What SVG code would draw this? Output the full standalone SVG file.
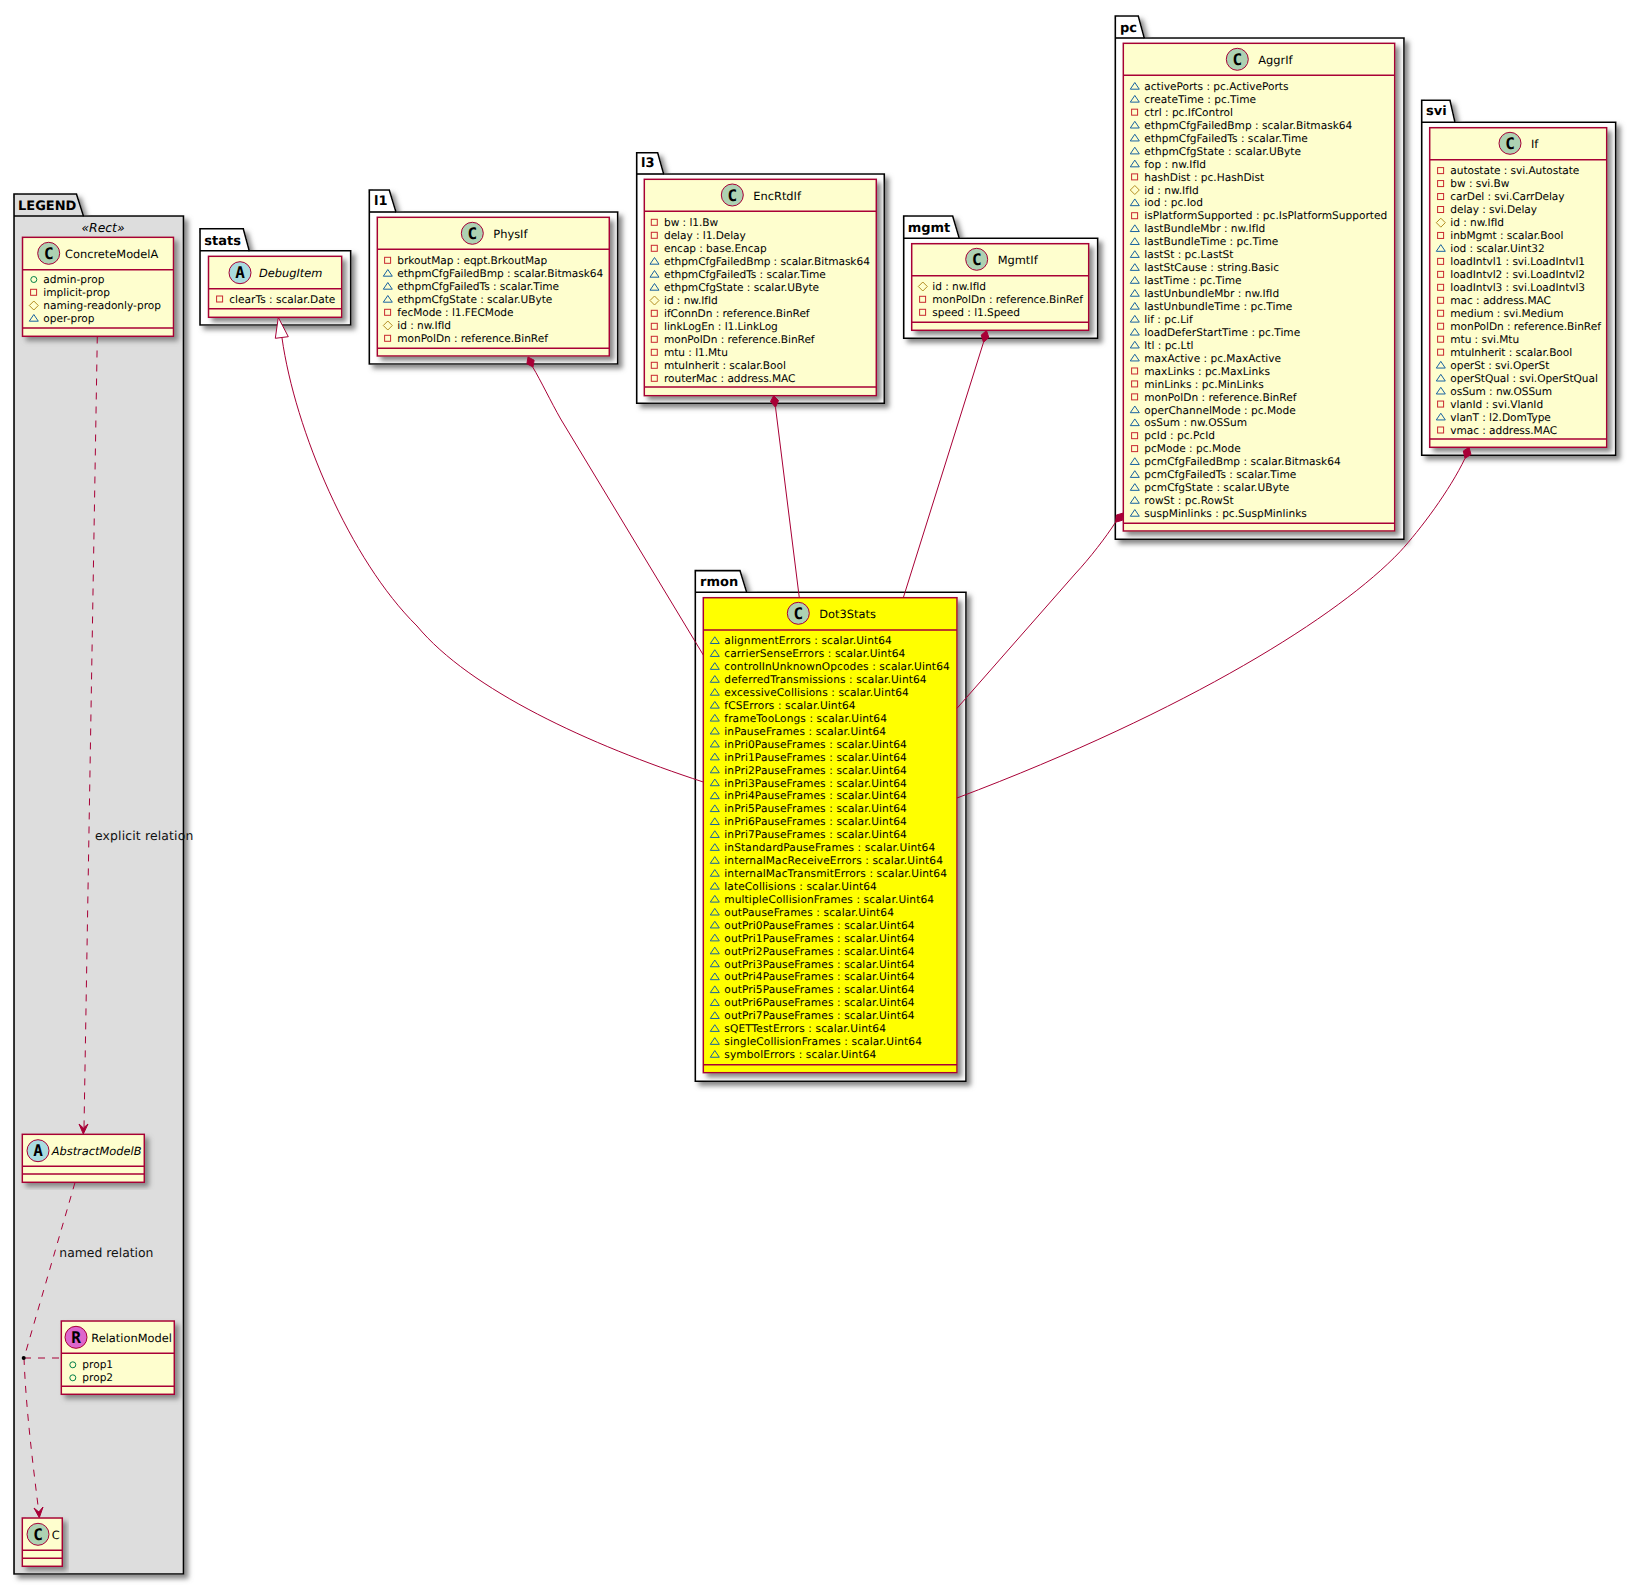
<svg xmlns="http://www.w3.org/2000/svg" width="1636" height="1585" viewBox="0 0 1636 1585">
<style>
text{font-family:"DejaVu Sans",sans-serif;font-size:10.6px;fill:#000;text-rendering:geometricPrecision}
.pk{fill:#fff;stroke:#000;stroke-width:1.6;filter:url(#sh)}
.pt{font-size:13px;font-weight:bold}
.box{fill:#FEFECE;stroke:#A80036;stroke-width:1.5;filter:url(#sh)}
.sep{stroke:#A80036;stroke-width:1.5}
.ci{stroke:#A80036;stroke-width:1}
.cc{fill:#ADD1B2}.ca{fill:#A9DCDF}.cr{fill:#DD66CC}
.lt{font-family:"DejaVu Sans Mono",monospace;font-weight:bold;font-size:16px;text-anchor:middle}
.n{font-size:11.4px}
.i{font-style:italic}
.l{font-size:12.4px;fill:#111}
.e{fill:none;stroke:#A80036;stroke-width:1}
.d{stroke-dasharray:7 7}
.h{fill:#A80036;stroke:#A80036;stroke-width:1}
.tight text{letter-spacing:-.06px}
.wide text{letter-spacing:.11px}
</style>
<defs>
<filter id="sh" x="-10%" y="-10%" width="125%" height="125%"><feDropShadow dx="4" dy="4" stdDeviation="2.4" flood-color="#888" flood-opacity="1"/></filter>
<rect id="m" x="-12.7" y="-6.7" width="6" height="6" fill="none" stroke="#C82930"/>
<polygon id="p" points="-14,-0.8 -9.5,-7.5 -5,-0.8" fill="none" stroke="#1963A0"/>
<polygon id="h" points="-14,-3.5 -9.5,-8 -5,-3.5 -9.5,1" fill="none" stroke="#B38D22"/>
<circle id="u" cx="-9.5" cy="-3.5" r="3" fill="none" stroke="#038048"/>
</defs>

<g id="pkg-LEGEND">
<path style="fill:#DDD" class="pk" d="M14,216V194H76.5L83.5,216H183.5V1574H14Z"/>
<path d="M14,216H83.5" fill="none" stroke="#000" stroke-width="1.6"/>
<text class="pt" x="18" y="210">LEGEND</text>
<text class="i" style="font-size:12.4px" x="103" y="232" text-anchor="middle">«Rect»</text>
<g id="ConcreteModelA">
<rect class="box" x="22.5" y="237.3" width="151" height="99"/>
<path class="sep" d="M22.5,269.7H173.5M22.5,328H173.5"/>
<circle class="ci cc" cx="48.7" cy="253.3" r="11"/><text class="lt" x="48.7" y="259">C</text>
<text class="n" x="65" y="258">ConcreteModelA</text>
<g transform="translate(43.3,283)">
<use href="#u"/><text>admin-prop</text>
<use href="#m" y="13"/><text y="13">implicit-prop</text>
<use href="#h" y="26"/><text y="26">naming-readonly-prop</text>
<use href="#p" y="39"/><text y="39">oper-prop</text>
</g></g>
<g id="AbstractModelB">
<rect class="box" x="22.3" y="1134.3" width="122" height="48"/>
<path class="sep" d="M22.3,1166.3H144.3M22.3,1174H144.3"/>
<circle class="ci ca" cx="38" cy="1150.7" r="11"/><text class="lt" x="38" y="1156.4">A</text>
<text class="n i" x="51.7" y="1154.7">AbstractModelB</text>
</g>
<g id="RelationModel">
<rect class="box" x="61.3" y="1321" width="113" height="73.3"/>
<path class="sep" d="M61.3,1353.3H174.3M61.3,1386.3H174.3"/>
<circle class="ci cr" cx="76" cy="1337.3" r="11"/><text class="lt" x="76" y="1343">R</text>
<text class="n" x="91.3" y="1342">RelationModel</text>
<g transform="translate(82.3,1368.3)">
<use href="#u"/><text>prop1</text>
<use href="#u" y="13"/><text y="13">prop2</text>
</g></g>
<g id="C">
<rect class="box" x="22.3" y="1518" width="40" height="48.3"/>
<path class="sep" d="M22.3,1550.3H62.3M22.3,1558.3H62.3"/>
<circle class="ci cc" cx="38" cy="1534.3" r="11"/><text class="lt" x="38" y="1540">C</text>
<text class="n" x="51.7" y="1538.7">C</text>
</g>
</g>

<g id="pkg-stats">
<path class="pk" d="M200,250.7V228.7H243.3L249.3,250.7H350.7V325H200Z"/>
<path d="M200,250.7H249.3" fill="none" stroke="#000" stroke-width="1.6"/>
<text class="pt" x="204.3" y="245">stats</text>
<g id="DebugItem">
<rect class="box" x="208.5" y="256.3" width="133.2" height="61"/>
<path class="sep" d="M208.5,288.7H341.7M208.5,308.7H341.7"/>
<circle class="ci ca" cx="240" cy="272.7" r="11"/><text class="lt" x="240" y="278.4">A</text>
<text class="n i" x="259" y="276.7">DebugItem</text>
<g transform="translate(229.3,302.7)"><use href="#m"/><text>clearTs : scalar.Date</text></g>
</g></g>

<g id="pkg-l1">
<path class="pk" d="M369.3,212V190H389.3L396,212H617.7V364H369.3Z"/>
<path d="M369.3,212H396" fill="none" stroke="#000" stroke-width="1.6"/>
<text class="pt" x="374" y="205.3">l1</text>
<g id="PhysIf">
<rect class="box" x="377.3" y="217.3" width="232" height="138.7"/>
<path class="sep" d="M377.3,249.3H609.3M377.3,348.3H609.3"/>
<circle class="ci cc" cx="472.3" cy="233.3" r="11"/><text class="lt" x="472.3" y="239">C</text>
<text class="n" x="493.3" y="237.7">PhysIf</text>
<g class="tight" transform="translate(397.3,264)">
<use href="#m"/><text>brkoutMap : eqpt.BrkoutMap</text>
<use href="#p" y="13"/><text y="13">ethpmCfgFailedBmp : scalar.Bitmask64</text>
<use href="#p" y="26"/><text y="26">ethpmCfgFailedTs : scalar.Time</text>
<use href="#p" y="39"/><text y="39">ethpmCfgState : scalar.UByte</text>
<use href="#m" y="52"/><text y="52">fecMode : l1.FECMode</text>
<use href="#h" y="65"/><text y="65">id : nw.IfId</text>
<use href="#m" y="78"/><text y="78">monPolDn : reference.BinRef</text>
</g></g></g>

<g id="pkg-l3">
<path class="pk" d="M636.7,174V152.7H657.7L663.7,174H884.3V403.3H636.7Z"/>
<path d="M636.7,174H663.7" fill="none" stroke="#000" stroke-width="1.6"/>
<text class="pt" x="641" y="167.3">l3</text>
<g id="EncRtdIf">
<rect class="box" x="644.3" y="179.3" width="232" height="216.4"/>
<path class="sep" d="M644.3,211.3H876.3M644.3,387H876.3"/>
<circle class="ci cc" cx="732.3" cy="195" r="11"/><text class="lt" x="732.3" y="200.7">C</text>
<text class="n" x="753.3" y="199.5">EncRtdIf</text>
<g class="tight" transform="translate(664,226)">
<use href="#m"/><text>bw : l1.Bw</text>
<use href="#m" y="13"/><text y="13">delay : l1.Delay</text>
<use href="#m" y="26"/><text y="26">encap : base.Encap</text>
<use href="#p" y="39"/><text y="39">ethpmCfgFailedBmp : scalar.Bitmask64</text>
<use href="#p" y="52"/><text y="52">ethpmCfgFailedTs : scalar.Time</text>
<use href="#p" y="65"/><text y="65">ethpmCfgState : scalar.UByte</text>
<use href="#h" y="78"/><text y="78">id : nw.IfId</text>
<use href="#m" y="91"/><text y="91">ifConnDn : reference.BinRef</text>
<use href="#m" y="104"/><text y="104">linkLogEn : l1.LinkLog</text>
<use href="#m" y="117"/><text y="117">monPolDn : reference.BinRef</text>
<use href="#m" y="130"/><text y="130">mtu : l1.Mtu</text>
<use href="#m" y="143"/><text y="143">mtuInherit : scalar.Bool</text>
<use href="#m" y="156"/><text y="156">routerMac : address.MAC</text>
</g></g></g>

<g id="pkg-mgmt">
<path class="pk" d="M903.7,238.3V216H952.7L959.3,238.3H1097.7V338.3H903.7Z"/>
<path d="M903.7,238.3H959.3" fill="none" stroke="#000" stroke-width="1.6"/>
<text class="pt" x="907.7" y="232">mgmt</text>
<g id="MgmtIf">
<rect class="box" x="911.7" y="243.7" width="177" height="86.6"/>
<path class="sep" d="M911.7,275.7H1088.7M911.7,322.3H1088.7"/>
<circle class="ci cc" cx="976.7" cy="259.3" r="11"/><text class="lt" x="976.7" y="265">C</text>
<text class="n" x="997.7" y="263.7">MgmtIf</text>
<g class="tight" transform="translate(932.3,290)">
<use href="#h"/><text>id : nw.IfId</text>
<use href="#m" y="13"/><text y="13">monPolDn : reference.BinRef</text>
<use href="#m" y="26"/><text y="26">speed : l1.Speed</text>
</g></g></g>

<g id="pkg-pc">
<path class="pk" d="M1115.3,38V16H1138.3L1144.3,38H1404V539.3H1115.3Z"/>
<path d="M1115.3,38H1144.3" fill="none" stroke="#000" stroke-width="1.6"/>
<text class="pt" x="1120" y="31.7">pc</text>
<g id="AggrIf">
<rect class="box" x="1123.3" y="43.3" width="271.4" height="487.7"/>
<path class="sep" d="M1123.3,75.3H1394.7M1123.3,523.3H1394.7"/>
<circle class="ci cc" cx="1237.3" cy="59.3" r="11"/><text class="lt" x="1237.3" y="65">C</text>
<text class="n" x="1258.3" y="64">AggrIf</text>
<g transform="translate(1144.3,90)">
<use href="#p"/><text>activePorts : pc.ActivePorts</text>
<use href="#p" y="12.94"/><text y="12.94">createTime : pc.Time</text>
<use href="#m" y="25.88"/><text y="25.88">ctrl : pc.IfControl</text>
<use href="#p" y="38.82"/><text y="38.82">ethpmCfgFailedBmp : scalar.Bitmask64</text>
<use href="#p" y="51.76"/><text y="51.76">ethpmCfgFailedTs : scalar.Time</text>
<use href="#p" y="64.7"/><text y="64.7">ethpmCfgState : scalar.UByte</text>
<use href="#p" y="77.64"/><text y="77.64">fop : nw.IfId</text>
<use href="#m" y="90.58"/><text y="90.58">hashDist : pc.HashDist</text>
<use href="#h" y="103.52"/><text y="103.52">id : nw.IfId</text>
<use href="#p" y="116.46"/><text y="116.46">iod : pc.Iod</text>
<use href="#m" y="129.4"/><text y="129.4">isPlatformSupported : pc.IsPlatformSupported</text>
<use href="#p" y="142.34"/><text y="142.34">lastBundleMbr : nw.IfId</text>
<use href="#p" y="155.28"/><text y="155.28">lastBundleTime : pc.Time</text>
<use href="#p" y="168.22"/><text y="168.22">lastSt : pc.LastSt</text>
<use href="#p" y="181.16"/><text y="181.16">lastStCause : string.Basic</text>
<use href="#p" y="194.1"/><text y="194.1">lastTime : pc.Time</text>
<use href="#p" y="207.04"/><text y="207.04">lastUnbundleMbr : nw.IfId</text>
<use href="#p" y="219.98"/><text y="219.98">lastUnbundleTime : pc.Time</text>
<use href="#p" y="232.92"/><text y="232.92">lif : pc.Lif</text>
<use href="#p" y="245.86"/><text y="245.86">loadDeferStartTime : pc.Time</text>
<use href="#p" y="258.8"/><text y="258.8">ltl : pc.Ltl</text>
<use href="#p" y="271.74"/><text y="271.74">maxActive : pc.MaxActive</text>
<use href="#m" y="284.68"/><text y="284.68">maxLinks : pc.MaxLinks</text>
<use href="#m" y="297.62"/><text y="297.62">minLinks : pc.MinLinks</text>
<use href="#m" y="310.56"/><text y="310.56">monPolDn : reference.BinRef</text>
<use href="#p" y="323.5"/><text y="323.5">operChannelMode : pc.Mode</text>
<use href="#p" y="336.44"/><text y="336.44">osSum : nw.OSSum</text>
<use href="#m" y="349.38"/><text y="349.38">pcId : pc.PcId</text>
<use href="#m" y="362.32"/><text y="362.32">pcMode : pc.Mode</text>
<use href="#p" y="375.26"/><text y="375.26">pcmCfgFailedBmp : scalar.Bitmask64</text>
<use href="#p" y="388.2"/><text y="388.2">pcmCfgFailedTs : scalar.Time</text>
<use href="#p" y="401.14"/><text y="401.14">pcmCfgState : scalar.UByte</text>
<use href="#p" y="414.08"/><text y="414.08">rowSt : pc.RowSt</text>
<use href="#p" y="427.02"/><text y="427.02">suspMinlinks : pc.SuspMinlinks</text>
</g></g></g>

<g id="pkg-svi">
<path class="pk" d="M1421.7,122.3V100.3H1450L1455,122.3H1615.7V455.3H1421.7Z"/>
<path d="M1421.7,122.3H1455" fill="none" stroke="#000" stroke-width="1.6"/>
<text class="pt" x="1426" y="115.3">svi</text>
<g id="If">
<rect class="box" x="1429.7" y="127.7" width="177" height="319.6"/>
<path class="sep" d="M1429.7,159.7H1606.7M1429.7,439H1606.7"/>
<circle class="ci cc" cx="1510" cy="143.3" r="11"/><text class="lt" x="1510" y="149">C</text>
<text class="n" x="1531" y="147.7">If</text>
<g class="tight" transform="translate(1450.3,174.3)">
<use href="#m"/><text>autostate : svi.Autostate</text>
<use href="#m" y="12.97"/><text y="12.97">bw : svi.Bw</text>
<use href="#m" y="25.94"/><text y="25.94">carDel : svi.CarrDelay</text>
<use href="#m" y="38.91"/><text y="38.91">delay : svi.Delay</text>
<use href="#h" y="51.88"/><text y="51.88">id : nw.IfId</text>
<use href="#m" y="64.85"/><text y="64.85">inbMgmt : scalar.Bool</text>
<use href="#p" y="77.82"/><text y="77.82">iod : scalar.Uint32</text>
<use href="#m" y="90.79"/><text y="90.79">loadIntvl1 : svi.LoadIntvl1</text>
<use href="#m" y="103.76"/><text y="103.76">loadIntvl2 : svi.LoadIntvl2</text>
<use href="#m" y="116.73"/><text y="116.73">loadIntvl3 : svi.LoadIntvl3</text>
<use href="#m" y="129.7"/><text y="129.7">mac : address.MAC</text>
<use href="#m" y="142.67"/><text y="142.67">medium : svi.Medium</text>
<use href="#m" y="155.64"/><text y="155.64">monPolDn : reference.BinRef</text>
<use href="#m" y="168.61"/><text y="168.61">mtu : svi.Mtu</text>
<use href="#m" y="181.58"/><text y="181.58">mtuInherit : scalar.Bool</text>
<use href="#p" y="194.55"/><text y="194.55">operSt : svi.OperSt</text>
<use href="#p" y="207.52"/><text y="207.52">operStQual : svi.OperStQual</text>
<use href="#p" y="220.49"/><text y="220.49">osSum : nw.OSSum</text>
<use href="#m" y="233.46"/><text y="233.46">vlanId : svi.VlanId</text>
<use href="#p" y="246.43"/><text y="246.43">vlanT : l2.DomType</text>
<use href="#m" y="259.4"/><text y="259.4">vmac : address.MAC</text>
</g></g></g>

<g id="pkg-rmon">
<path class="pk" d="M695.3,592.3V570.6H740L746.7,592.3H966V1081.3H695.3Z"/>
<path d="M695.3,592.3H746.7" fill="none" stroke="#000" stroke-width="1.6"/>
<text class="pt" x="700" y="586">rmon</text>
<g id="Dot3Stats">
<rect class="box" style="fill:#FFFF00" x="703.3" y="597.7" width="253.7" height="475"/>
<path class="sep" d="M703.3,630H957M703.3,1064.7H957"/>
<circle class="ci cc" cx="798.3" cy="613.3" r="11"/><text class="lt" x="798.3" y="619">C</text>
<text class="n" x="819.3" y="617.7">Dot3Stats</text>
<g class="wide" transform="translate(724.3,644.3)">
<use href="#p"/><text>alignmentErrors : scalar.Uint64</text>
<use href="#p" y="12.93"/><text y="12.93">carrierSenseErrors : scalar.Uint64</text>
<use href="#p" y="25.86"/><text y="25.86">controlInUnknownOpcodes : scalar.Uint64</text>
<use href="#p" y="38.79"/><text y="38.79">deferredTransmissions : scalar.Uint64</text>
<use href="#p" y="51.72"/><text y="51.72">excessiveCollisions : scalar.Uint64</text>
<use href="#p" y="64.65"/><text y="64.65">fCSErrors : scalar.Uint64</text>
<use href="#p" y="77.58"/><text y="77.58">frameTooLongs : scalar.Uint64</text>
<use href="#p" y="90.51"/><text y="90.51">inPauseFrames : scalar.Uint64</text>
<use href="#p" y="103.44"/><text y="103.44">inPri0PauseFrames : scalar.Uint64</text>
<use href="#p" y="116.37"/><text y="116.37">inPri1PauseFrames : scalar.Uint64</text>
<use href="#p" y="129.3"/><text y="129.3">inPri2PauseFrames : scalar.Uint64</text>
<use href="#p" y="142.23"/><text y="142.23">inPri3PauseFrames : scalar.Uint64</text>
<use href="#p" y="155.16"/><text y="155.16">inPri4PauseFrames : scalar.Uint64</text>
<use href="#p" y="168.09"/><text y="168.09">inPri5PauseFrames : scalar.Uint64</text>
<use href="#p" y="181.02"/><text y="181.02">inPri6PauseFrames : scalar.Uint64</text>
<use href="#p" y="193.95"/><text y="193.95">inPri7PauseFrames : scalar.Uint64</text>
<use href="#p" y="206.88"/><text y="206.88">inStandardPauseFrames : scalar.Uint64</text>
<use href="#p" y="219.81"/><text y="219.81">internalMacReceiveErrors : scalar.Uint64</text>
<use href="#p" y="232.74"/><text y="232.74">internalMacTransmitErrors : scalar.Uint64</text>
<use href="#p" y="245.67"/><text y="245.67">lateCollisions : scalar.Uint64</text>
<use href="#p" y="258.6"/><text y="258.6">multipleCollisionFrames : scalar.Uint64</text>
<use href="#p" y="271.53"/><text y="271.53">outPauseFrames : scalar.Uint64</text>
<use href="#p" y="284.46"/><text y="284.46">outPri0PauseFrames : scalar.Uint64</text>
<use href="#p" y="297.39"/><text y="297.39">outPri1PauseFrames : scalar.Uint64</text>
<use href="#p" y="310.32"/><text y="310.32">outPri2PauseFrames : scalar.Uint64</text>
<use href="#p" y="323.25"/><text y="323.25">outPri3PauseFrames : scalar.Uint64</text>
<use href="#p" y="336.18"/><text y="336.18">outPri4PauseFrames : scalar.Uint64</text>
<use href="#p" y="349.11"/><text y="349.11">outPri5PauseFrames : scalar.Uint64</text>
<use href="#p" y="362.04"/><text y="362.04">outPri6PauseFrames : scalar.Uint64</text>
<use href="#p" y="374.97"/><text y="374.97">outPri7PauseFrames : scalar.Uint64</text>
<use href="#p" y="387.9"/><text y="387.9">sQETTestErrors : scalar.Uint64</text>
<use href="#p" y="400.83"/><text y="400.83">singleCollisionFrames : scalar.Uint64</text>
<use href="#p" y="413.76"/><text y="413.76">symbolErrors : scalar.Uint64</text>
</g></g></g>

<g id="connectors">
<path class="e d" d="M97.3,336.5L84,1128"/>
<polygon class="h" points="83.3,1134 79,1124 83.4,1128 88,1124"/>
<text class="l" style="letter-spacing:.16px" x="95" y="840">explicit relation</text>
<path class="e d" d="M75,1182.5L24,1358"/>
<text class="l" x="59.3" y="1257.3">named relation</text>
<path class="e d" d="M24,1358C26,1410 33,1465 38.8,1512"/>
<polygon class="h" points="39.3,1517.7 34,1508 38.8,1512 43,1507"/>
<path class="e d" d="M24,1358H61"/>
<circle cx="23.7" cy="1358" r="2" fill="#000"/>
<path class="e" d="M282,338C295,430 350,560 417,626C470,690 590,745 703.3,782"/>
<polygon points="278.3,317.5 275.3,338.3 288.3,336.7" fill="#fff" stroke="#A80036"/>
<path class="e" d="M532.7,367C541,381 551,402 560.7,419L703.3,655"/>
<polygon class="h" points="528,357 534.1,360.2 533,367 526.9,363.8"/>
<path class="e" d="M775.5,407.3L799.3,597.7"/>
<polygon class="h" points="773.7,395.7 778.5,400.5 775.5,407.3 770.5,401.5"/>
<path class="e" d="M983.5,342.3L903.3,597.7"/>
<polygon class="h" points="986.5,330.5 988.8,337.5 983.5,342.3 981.2,335.1"/>
<path class="e" d="M1115.6,522.2C1106,537 1090,558 1075,574L957,708.3"/>
<polygon class="h" points="1123.3,513 1122.6,520.2 1115.6,522.2 1116.4,515"/>
<path class="e" d="M1465,458.3C1450,490 1420,530 1400,551.7C1340,615 1190,710 957,798"/>
<polygon class="h" points="1469,447.3 1471,454.5 1465,458.3 1463.3,451"/>
</g>
</svg>
